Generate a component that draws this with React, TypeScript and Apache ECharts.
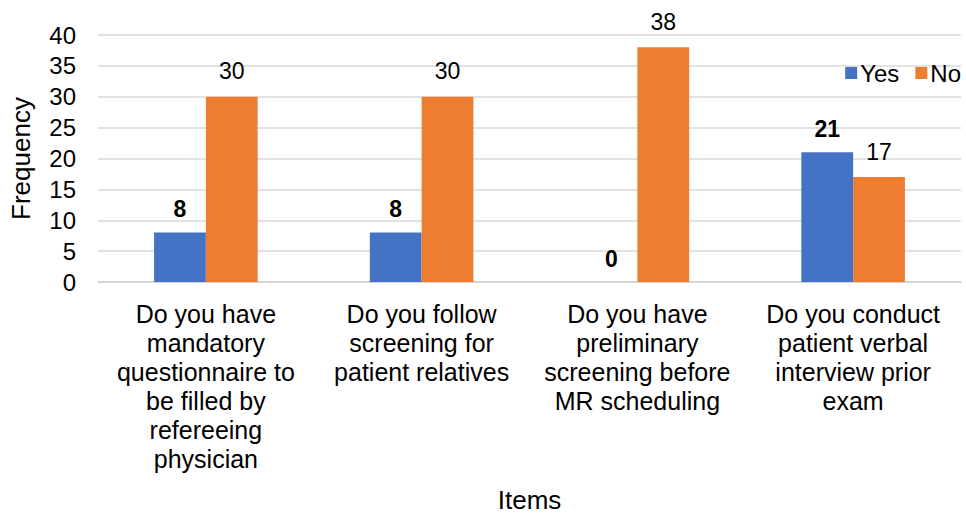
import React, { useEffect, useRef } from "react";
import * as echarts from "echarts";

const categories = [
  "Do you have\nmandatory\nquestionnaire to\nbe filled by\nrefereeing\nphysician",
  "Do you follow\nscreening for\npatient relatives",
  "Do you have\npreliminary\nscreening before\nMR scheduling",
  "Do you conduct\npatient verbal\ninterview prior\nexam",
];
const yesValues = [8, 8, 0, 21];
const noValues = [30, 30, 38, 17];
const seriesNames = ["Yes", "No"];

export default function App() {
  const ref = useRef<HTMLDivElement>(null);
  useEffect(() => {
    if (!ref.current) return;
    const chart = echarts.init(ref.current, undefined, { renderer: "svg" });
    const font = "Liberation Sans, Arial, sans-serif";
    chart.setOption({
      animation: false,
      backgroundColor: "#ffffff",
      textStyle: { fontFamily: font, color: "#000" },
      legend: {
        data: seriesNames,
        right: 0,
        top: 56,
        itemWidth: 12,
        itemHeight: 12,
        itemGap: 16,
        icon: "rect",
        textStyle: { fontSize: 24, color: "#000", fontFamily: font, padding: [0, 0, 0, -2] },
      },
      grid: { left: 97, right: 5, top: 35, bottom: 227, containLabel: false },
      xAxis: {
        type: "category",
        data: categories,
        name: "Items",
        nameLocation: "middle",
        nameGap: 205,
        nameTextStyle: { fontSize: 26, color: "#000", fontFamily: font },
        axisLine: { show: true, lineStyle: { color: "#d0d0d0", width: 1.5 } },
        axisTick: { show: false },
        axisLabel: {
          interval: 0,
          fontSize: 25,
          lineHeight: 29,
          color: "#000",
          fontFamily: font,
          margin: 17,
          align: "center",
        },
      },
      yAxis: {
        type: "value",
        min: 0,
        max: 40,
        interval: 5,
        name: "Frequency",
        nameLocation: "middle",
        nameGap: 64,
        nameRotate: 90,
        nameTextStyle: { fontSize: 26, color: "#000", fontFamily: font },
        axisLine: { show: false },
        axisTick: { show: false },
        axisLabel: { fontSize: 24, color: "#000", fontFamily: font, margin: 22 },
        splitLine: { lineStyle: { color: "#d9d9d9", width: 1.5 } },
      },
      series: [
        {
          name: seriesNames[0],
          type: "bar",
          data: yesValues,
          itemStyle: { color: "#4472C4" },
          barGap: "0%",
          barCategoryGap: "52%",
          label: {
            show: true,
            position: "top",
            distance: 12,
            fontSize: 23,
            fontWeight: "bold",
            color: "#000",
            fontFamily: font,
          },
        },
        {
          name: seriesNames[1],
          type: "bar",
          data: noValues,
          itemStyle: { color: "#ED7D31" },
          barGap: "0%",
          barCategoryGap: "52%",
          label: {
            show: true,
            position: "top",
            distance: 14,
            fontSize: 23,
            color: "#000",
            fontFamily: font,
          },
        },
      ],
    });
    return () => chart.dispose();
  }, []);
  return (
    <div
      ref={ref}
      style={{ position: "fixed", left: 0, top: 0, width: 966, height: 514, background: "#fff" }}
    />
  );
}
